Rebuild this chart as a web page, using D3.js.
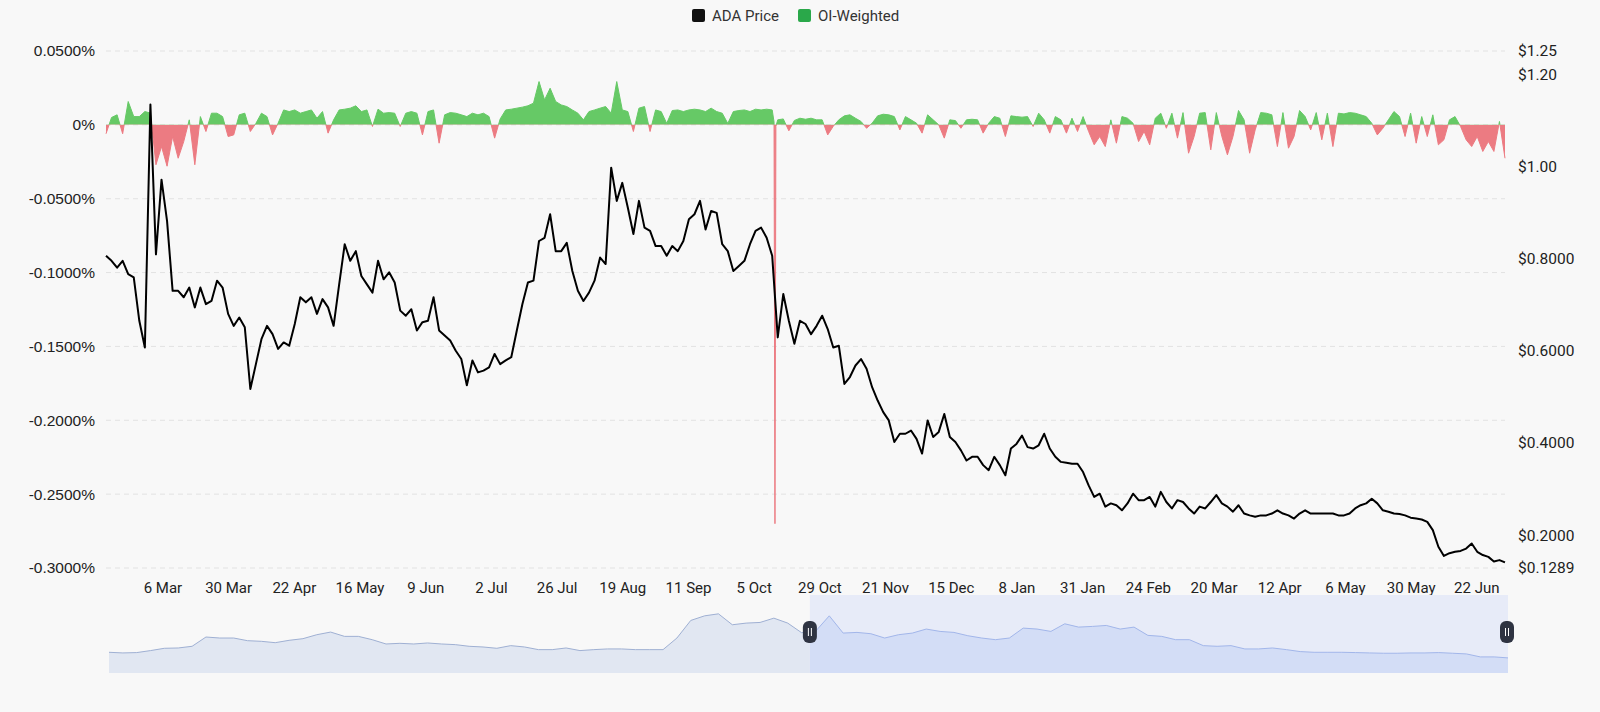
<!DOCTYPE html>
<html>
<head>
<meta charset="utf-8">
<script src="https://cdn.jsdelivr.net/npm/d3@7"></script>
<style>
  html, body { margin: 0; padding: 0; background: #f8f8f8; }
  #chart { width: 1600px; height: 712px; }
  text { font-family: Roboto, "Noto Sans", sans-serif; fill: #222; }
</style>
</head>
<body>
<div id="chart"></div>
<script>
var chartWidth = 1600;
var chartHeight = 712;
var plotLeft = 106, plotRight = 1505, plotTop = 51, plotBottom = 568;
var sliderLeft = 109, sliderRight = 1508, sliderTop = 595, sliderBottom = 673;

// ADA price, one reading every 2 days from 14 Feb 2025
var priceStart = '2025-02-14';
var priceStepDays = 2;
var priceValues = [
  0.806, 0.795, 0.780, 0.795, 0.766, 0.759, 0.665, 0.607, 1.134, 0.809,
  0.971, 0.881, 0.730, 0.730, 0.716, 0.737, 0.694, 0.737, 0.701, 0.708,
  0.752, 0.737, 0.680, 0.654, 0.672, 0.651, 0.517, 0.571, 0.625, 0.654,
  0.636, 0.604, 0.618, 0.611, 0.658, 0.716, 0.705, 0.716, 0.680, 0.712,
  0.694, 0.654, 0.744, 0.831, 0.795, 0.816, 0.762, 0.744, 0.726, 0.795,
  0.755, 0.770, 0.748, 0.687, 0.676, 0.690, 0.644, 0.662, 0.665, 0.716,
  0.644, 0.633, 0.622, 0.600, 0.582, 0.525, 0.579, 0.553, 0.557, 0.564,
  0.593, 0.571, 0.579, 0.586, 0.644, 0.701, 0.748, 0.752, 0.838, 0.845,
  0.896, 0.816, 0.816, 0.834, 0.773, 0.730, 0.708, 0.726, 0.752, 0.802,
  0.788, 0.997, 0.925, 0.964, 0.910, 0.853, 0.925, 0.867, 0.860, 0.827,
  0.827, 0.806, 0.827, 0.816, 0.838, 0.885, 0.896, 0.925, 0.863, 0.903,
  0.899, 0.831, 0.816, 0.773, 0.784, 0.795, 0.831, 0.860, 0.867, 0.845,
  0.806, 0.629, 0.723, 0.665, 0.615, 0.665, 0.658, 0.636, 0.654, 0.676,
  0.647, 0.607, 0.611, 0.528, 0.543, 0.568, 0.582, 0.561, 0.521, 0.492,
  0.467, 0.449, 0.402, 0.420, 0.420, 0.427, 0.409, 0.377, 0.449, 0.413,
  0.424, 0.463, 0.413, 0.402, 0.384, 0.362, 0.370, 0.370, 0.352, 0.341,
  0.370, 0.352, 0.330, 0.388, 0.398, 0.416, 0.391, 0.388, 0.395, 0.420,
  0.388, 0.370, 0.359, 0.357, 0.355, 0.355, 0.337, 0.308, 0.283, 0.290,
  0.262, 0.269, 0.265, 0.254, 0.269, 0.290, 0.276, 0.276, 0.283, 0.262,
  0.294, 0.272, 0.258, 0.276, 0.272, 0.258, 0.247, 0.262, 0.258, 0.272,
  0.287, 0.269, 0.262, 0.251, 0.265, 0.247, 0.243, 0.240, 0.243, 0.243,
  0.247, 0.254, 0.247, 0.243, 0.236, 0.247, 0.254, 0.247, 0.247, 0.247,
  0.247, 0.247, 0.243, 0.243, 0.247, 0.258, 0.265, 0.269, 0.279, 0.269,
  0.254, 0.251, 0.247, 0.246, 0.243, 0.238, 0.236, 0.234, 0.229, 0.211,
  0.175, 0.155, 0.161, 0.164, 0.166, 0.171, 0.182, 0.164, 0.157, 0.153,
  0.143, 0.146, 0.141
];

// OI-weighted funding rate (%), same dates as the price
var fundingValues = [
  -0.006, 0.005, 0.0068, -0.006, 0.0158, 0.0056, 0.0056, 0.009, 0.008, -0.027,
  -0.0147, -0.028, -0.0079, -0.0226, -0.0113, 0.0034, -0.027, 0.0056, -0.0045, 0.0079,
  0.0079, 0.0056, -0.0079, -0.0068, 0.0068, 0.0079, -0.0045, 0.001, 0.0079, 0.0056,
  -0.0068, 0.0011, 0.0101, 0.009, 0.0101, 0.0079, 0.009, 0.0101, 0.0045, 0.009,
  -0.0056, 0.0034, 0.0101, 0.0106, 0.0113, 0.0129, 0.009, 0.0101, -0.0011, 0.0106,
  0.0079, 0.0083, 0.0079, -0.0011, 0.0079, 0.009, 0.0079, -0.0068, 0.009, 0.0101,
  -0.0124, 0.0068, 0.0083, 0.0079, 0.0068, 0.0056, 0.0079, 0.0068, 0.0079, 0.0056,
  -0.009, 0.004, 0.0101, 0.0106, 0.0113, 0.012, 0.0129, 0.0147, 0.0293, 0.0169,
  0.0248, 0.0158, 0.0135, 0.0124, 0.0101, 0.0079, 0.0034, 0.009, 0.0101, 0.0113,
  0.0124, 0.0079, 0.0293, 0.0101, 0.009, -0.0045, 0.0113, 0.0124, -0.0045, 0.0101,
  0.009, 0.001, 0.0097, 0.0101, 0.009, 0.0101, 0.0106, 0.0101, 0.009, 0.0113,
  0.009, 0.0079, 0.001, 0.009, 0.0097, 0.0101, 0.009, 0.0106, 0.0101, 0.0106,
  0.0101, 0.0034, 0.004, -0.004, 0.003, 0.0045, 0.0038, 0.0045, 0.0034, 0.0034,
  -0.0068, -0.001, 0.0034, 0.0061, 0.0068, 0.0045, 0.0023, -0.0023, 0.0011, 0.0061,
  0.0072, 0.0068, 0.0056, -0.0034, 0.0056, 0.0034, 0.0011, -0.0056, 0.0068, 0.0034,
  0, -0.009, 0.0034, 0.0029, -0.0023, 0.0034, 0.0038, 0.0034, -0.0056, 0.0011,
  0.0056, 0.0045, -0.0079, 0.0061, 0.0056, 0.0052, 0.0056, -0.0011, 0.0079, 0.0034,
  -0.0056, 0.0056, 0.0034, -0.0056, 0.0045, -0.0045, 0.0056, -0.0045, -0.0135, -0.0079,
  -0.0147, 0.0034, -0.0124, 0.0056, 0.0045, 0.0011, -0.0113, -0.0045, -0.0135, 0.0045,
  0.0079, -0.0023, 0.0079, -0.009, 0.0083, -0.0192, -0.0079, 0.0079, 0.0083, -0.0169,
  0.0083, -0.0079, -0.0203, -0.0079, 0.0097, 0.0034, -0.0192, -0.0034, 0.0083, 0.0079,
  0.0068, -0.0147, 0.0083, -0.0158, -0.0079, 0.0097, 0.0056, -0.0034, 0.0083, -0.0101,
  0.0079, -0.0147, 0.0079, 0.0074, 0.0083, 0.0079, 0.0068, 0.0056, 0.0011, -0.0068,
  -0.0023, 0.0034, 0.009, 0.0056, -0.0079, 0.0079, -0.0124, 0.0056, -0.0079, 0.0068,
  -0.0135, -0.0101, 0.0034, 0.0056, -0.0011, -0.0101, -0.0147, -0.0079, -0.018, -0.0113,
  -0.018, 0.0023, -0.0226
];

// 8h readings around the October crash
var fundingSpikeDates = ['2025-10-12T16:00Z', '2025-10-13T00:00Z', '2025-10-13T08:00Z'];
var fundingSpikeValues = [0.002, -0.27, -0.001];

// slider overview, one reading every 10 days
var sliderStart = '2023-09-27';
var sliderStepDays = 10;
var sliderValues = [
  0.269, 0.254, 0.262, 0.308, 0.361, 0.368, 0.407, 0.620, 0.597, 0.597,
  0.536, 0.521, 0.490, 0.544, 0.582, 0.673, 0.734, 0.635, 0.635, 0.559,
  0.460, 0.475, 0.460, 0.483, 0.460, 0.445, 0.407, 0.391, 0.361, 0.422,
  0.391, 0.330, 0.330, 0.368, 0.308, 0.330, 0.346, 0.346, 0.330, 0.330,
  0.330, 0.597, 1.001, 1.107, 1.153, 0.902, 0.940, 0.955, 1.054, 0.940,
  0.720, 0.749, 1.107, 0.711, 0.726, 0.696, 0.597, 0.673, 0.711, 0.803,
  0.749, 0.726, 0.650, 0.597, 0.559, 0.597, 0.825, 0.803, 0.749, 0.924,
  0.848, 0.864, 0.886, 0.803, 0.848, 0.658, 0.635, 0.559, 0.559, 0.422,
  0.407, 0.422, 0.346, 0.346, 0.368, 0.330, 0.285, 0.269, 0.269, 0.269,
  0.262, 0.254, 0.247, 0.247, 0.254, 0.254, 0.262, 0.247, 0.231, 0.163,
  0.163, 0.140
];

var dateTicks = [
  '2025-03-06T08:00Z', '2025-03-30T00:00Z', '2025-04-22T16:00Z', '2025-05-16T08:00Z',
  '2025-06-09T00:00Z', '2025-07-02T16:00Z', '2025-07-26T08:00Z', '2025-08-19T00:00Z',
  '2025-09-11T16:00Z', '2025-10-05T08:00Z', '2025-10-29T00:00Z', '2025-11-21T16:00Z',
  '2025-12-15T08:00Z', '2026-01-08T00:00Z', '2026-01-31T16:00Z', '2026-02-24T08:00Z',
  '2026-03-20T00:00Z', '2026-04-12T16:00Z', '2026-05-06T08:00Z', '2026-05-30T00:00Z',
  '2026-06-22T16:00Z'
];
var dateTickLabels = ['6 Mar', '30 Mar', '22 Apr', '16 May', '9 Jun', '2 Jul', '26 Jul',
  '19 Aug', '11 Sep', '5 Oct', '29 Oct', '21 Nov', '15 Dec', '8 Jan', '31 Jan', '24 Feb',
  '20 Mar', '12 Apr', '6 May', '30 May', '22 Jun'];

var rateTicks = [0.05, 0, -0.05, -0.1, -0.15, -0.2, -0.25, -0.3];
var rateTickLabels = ['0.0500%', '0%', '-0.0500%', '-0.1000%', '-0.1500%', '-0.2000%', '-0.2500%', '-0.3000%'];

var priceTicks = [1.25, 1.2, 1.0, 0.8, 0.6, 0.4, 0.2, 0.1289];
var priceTickLabels = ['$1.25', '$1.20', '$1.00', '$0.8000', '$0.6000', '$0.4000', '$0.2000', '$0.1289'];

var seriesNames = ['ADA Price', 'OI-Weighted'];
var seriesColors = ['#111111', '#2aa84a'];

// Build dated points
var parseDay = d3.utcParse('%Y-%m-%d');
var start = parseDay(priceStart);
var pricePoints = priceValues.map(function(v, i) {
  return {date: d3.utcDay.offset(start, i * priceStepDays), value: v};
});
var fundingPoints = fundingValues.map(function(v, i) {
  return {date: d3.utcDay.offset(start, i * priceStepDays), value: v};
});
fundingSpikeDates.forEach(function(d, i) {
  fundingPoints.push({date: d3.isoParse(d), value: fundingSpikeValues[i]});
});
fundingPoints.sort(function(a, b) { return a.date - b.date; });

var sStart = parseDay(sliderStart);
var sliderPoints = sliderValues.map(function(v, i) {
  return {date: d3.utcDay.offset(sStart, i * sliderStepDays), value: v};
});

// Create SVG Element
var svg = d3.select('#chart')
    .append('svg')
    .attr('width', chartWidth)
    .attr('height', chartHeight);

svg.append('rect')
    .attr('width', chartWidth)
    .attr('height', chartHeight)
    .attr('fill', '#f8f8f8');

// Create Scales
var scaleX = d3.scaleUtc()
    .domain([pricePoints[0].date, pricePoints[pricePoints.length - 1].date])
    .range([plotLeft, plotRight]);

var scaleRate = d3.scaleLinear()
    .domain([-0.3, 0.05])
    .range([plotBottom, plotTop]);

var scalePrice = d3.scaleLinear()
    .domain([0.1289, 1.25])
    .range([plotBottom, plotTop]);

// Grid lines
svg.append('g')
    .selectAll('line')
    .data(rateTicks)
    .enter()
    .append('line')
    .attr('x1', plotLeft)
    .attr('x2', plotRight)
    .attr('y1', function(d) { return scaleRate(d); })
    .attr('y2', function(d) { return scaleRate(d); })
    .attr('stroke', '#e2e2e2')
    .attr('stroke-dasharray', '5,4');

// Funding area split at zero
var zeroY = scaleRate(0);
var defs = svg.append('defs');
defs.append('clipPath').attr('id', 'clip-pos')
  .append('rect')
    .attr('x', plotLeft - 1).attr('y', 0)
    .attr('width', plotRight - plotLeft + 2).attr('height', zeroY);
defs.append('clipPath').attr('id', 'clip-neg')
  .append('rect')
    .attr('x', plotLeft - 1).attr('y', zeroY)
    .attr('width', plotRight - plotLeft + 2).attr('height', chartHeight - zeroY);

var fundingArea = d3.area()
    .x(function(d) { return scaleX(d.date); })
    .y0(zeroY)
    .y1(function(d) { return scaleRate(d.value); });

var fundingLine = d3.line()
    .x(function(d) { return scaleX(d.date); })
    .y(function(d) { return scaleRate(d.value); });

var fundingParts = [
  {clip: 'url(#clip-pos)', color: '#66c966'},
  {clip: 'url(#clip-neg)', color: '#ec7b82'}
];
fundingParts.forEach(function(part) {
  svg.append('path')
      .datum(fundingPoints)
      .attr('d', fundingArea)
      .attr('fill', part.color)
      .attr('clip-path', part.clip);
  svg.append('path')
      .datum(fundingPoints)
      .attr('d', fundingLine)
      .attr('fill', 'none')
      .attr('stroke', part.color)
      .attr('stroke-width', 1)
      .attr('clip-path', part.clip);
});

// Price line
var priceLine = d3.line()
    .x(function(d) { return scaleX(d.date); })
    .y(function(d) { return scalePrice(d.value); });

svg.append('path')
    .datum(pricePoints)
    .attr('d', priceLine)
    .attr('fill', 'none')
    .attr('stroke', '#000')
    .attr('stroke-width', 2)
    .attr('stroke-linejoin', 'round');

// Axes
var axisLeft = svg.append('g')
    .attr('transform', 'translate(' + plotLeft + ',0)')
    .call(d3.axisLeft(scaleRate)
      .tickValues(rateTicks)
      .tickFormat(function(d, i) { return rateTickLabels[i]; })
      .tickSize(0)
      .tickPadding(11));
axisLeft.select('.domain').remove();
axisLeft.selectAll('text')
    .style('font-family', '"Liberation Sans", Arial, sans-serif')
    .style('font-size', '15.5px')
    .style('fill', '#222');

var axisRight = svg.append('g')
    .attr('transform', 'translate(' + plotRight + ',0)')
    .call(d3.axisRight(scalePrice)
      .tickValues(priceTicks)
      .tickFormat(function(d, i) { return priceTickLabels[i]; })
      .tickSize(0)
      .tickPadding(13));
axisRight.select('.domain').remove();
axisRight.selectAll('text')
    .style('font-family', 'Roboto, sans-serif')
    .style('font-size', '15.5px')
    .style('fill', '#222');

var axisBottom = svg.append('g')
    .attr('transform', 'translate(0,' + plotBottom + ')')
    .call(d3.axisBottom(scaleX)
      .tickValues(dateTicks.map(function(d) { return d3.isoParse(d); }))
      .tickFormat(function(d, i) { return dateTickLabels[i]; })
      .tickSize(0)
      .tickPadding(14));
axisBottom.select('.domain').remove();
axisBottom.selectAll('text')
    .style('font-family', 'Roboto, sans-serif')
    .style('font-size', '15px')
    .style('fill', '#222');

// Legend
var legendX = [692, 798];
var legend = svg.append('g');
legend.selectAll('rect')
    .data(seriesNames)
    .enter()
    .append('rect')
    .attr('x', function(d, i) { return legendX[i]; })
    .attr('y', 9)
    .attr('width', 13)
    .attr('height', 13)
    .attr('rx', 2)
    .attr('fill', function(d, i) { return seriesColors[i]; });
legend.selectAll('text')
    .data(seriesNames)
    .enter()
    .append('text')
    .attr('x', function(d, i) { return legendX[i] + 20; })
    .attr('y', 21)
    .style('font-size', '15px')
    .style('fill', '#333')
    .text(function(d) { return d; });

// Slider
var scaleSX = d3.scaleUtc()
    .domain([sliderPoints[0].date, sliderPoints[sliderPoints.length - 1].date])
    .range([sliderLeft, sliderRight]);
var pad = (1.25 - 0.1289) * 0.3;
var scaleSY = d3.scaleLinear()
    .domain([0.1289 - pad, 1.25 + pad])
    .range([sliderBottom, sliderTop]);

var sliderArea = d3.area()
    .x(function(d) { return scaleSX(d.date); })
    .y0(sliderBottom)
    .y1(function(d) { return scaleSY(d.value); });
var sliderLine = d3.line()
    .x(function(d) { return scaleSX(d.date); })
    .y(function(d) { return scaleSY(d.value); });

svg.append('path').datum(sliderPoints)
    .attr('d', sliderArea).attr('fill', '#e1e7f2');
svg.append('path').datum(sliderPoints)
    .attr('d', sliderLine).attr('fill', 'none')
    .attr('stroke', '#9fb0d3').attr('stroke-width', 1);

var selLeft = scaleSX(pricePoints[0].date);
var selRight = scaleSX(pricePoints[pricePoints.length - 1].date);

defs.append('clipPath').attr('id', 'clip-sel')
  .append('rect')
    .attr('x', selLeft).attr('y', sliderTop)
    .attr('width', selRight - selLeft).attr('height', sliderBottom - sliderTop);

svg.append('rect')
    .attr('x', selLeft).attr('y', sliderTop)
    .attr('width', selRight - selLeft).attr('height', sliderBottom - sliderTop)
    .attr('fill', '#e7ebf8');
svg.append('path').datum(sliderPoints)
    .attr('d', sliderArea).attr('fill', '#d3ddf6')
    .attr('clip-path', 'url(#clip-sel)');
svg.append('path').datum(sliderPoints)
    .attr('d', sliderLine).attr('fill', 'none')
    .attr('stroke', '#a2b6ea').attr('stroke-width', 1)
    .attr('clip-path', 'url(#clip-sel)');

// Handles
var handleY = (sliderTop + sliderBottom) / 2 - 2;
var handles = svg.append('g')
    .selectAll('g')
    .data([selLeft, selRight - 1])
    .enter()
    .append('g')
    .attr('transform', function(d) { return 'translate(' + d + ',' + handleY + ')'; });
handles.append('rect')
    .attr('x', -7).attr('y', -11)
    .attr('width', 14).attr('height', 22)
    .attr('rx', 6)
    .attr('fill', '#2f3442');
handles.selectAll('line')
    .data([-1.5, 1.5])
    .enter()
    .append('line')
    .attr('x1', function(d) { return d; })
    .attr('x2', function(d) { return d; })
    .attr('y1', -4).attr('y2', 4)
    .attr('stroke', '#ffffff').attr('stroke-width', 1);
</script>
</body>
</html>
